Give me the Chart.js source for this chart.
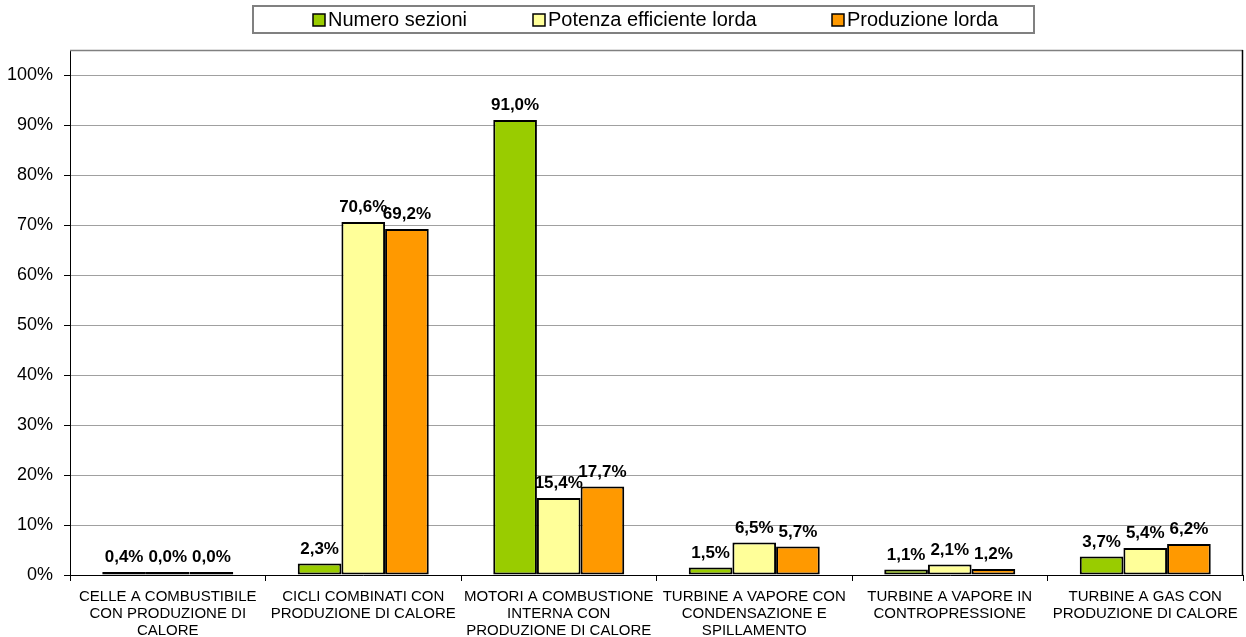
<!DOCTYPE html>
<html>
<head>
<meta charset="utf-8">
<script src="https://cdn.jsdelivr.net/npm/chart.js@4/dist/chart.umd.min.js"></script>
<style>
  body { margin: 0; background: #fff; }
</style>
</head>
<body>
<canvas id="myChart" width="1246" height="637"></canvas>
<script>
// categories and series (percent shares)
const categories = [
  ['CELLE A COMBUSTIBILE', 'CON PRODUZIONE DI', 'CALORE'],
  ['CICLI COMBINATI CON', 'PRODUZIONE DI CALORE'],
  ['MOTORI A COMBUSTIONE', 'INTERNA CON', 'PRODUZIONE DI CALORE'],
  ['TURBINE A VAPORE CON', 'CONDENSAZIONE E', 'SPILLAMENTO'],
  ['TURBINE A VAPORE IN', 'CONTROPRESSIONE'],
  ['TURBINE A GAS CON', 'PRODUZIONE DI CALORE'],
];
const numeroSezioni = [0.4, 2.3, 91.0, 1.5, 1.1, 3.7];
const potenzaLorda = [0.0, 70.6, 15.4, 6.5, 2.1, 5.4];
const produzioneLorda = [0.0, 69.2, 17.7, 5.7, 1.2, 6.2];
const yTicks = [0, 10, 20, 30, 40, 50, 60, 70, 80, 90, 100];

const FONT = "'Liberation Sans', Arial, sans-serif";

const data = {
  labels: categories,
  datasets: [
    { label: 'Numero sezioni', data: numeroSezioni, backgroundColor: '#99cc00' },
    { label: 'Potenza efficiente lorda', data: potenzaLorda, backgroundColor: '#ffff99' },
    { label: 'Produzione lorda', data: produzioneLorda, backgroundColor: '#ff9900' },
  ],
};

// value labels above each bar
const valueLabels = {
  id: 'valueLabels',
  afterDatasetsDraw(chart) {
    const { ctx } = chart;
    ctx.save();
    ctx.font = 'bold 17px ' + FONT;
    ctx.fillStyle = '#000';
    ctx.textAlign = 'center';
    ctx.textBaseline = 'alphabetic';
    chart.data.datasets.forEach((ds, i) => {
      chart.getDatasetMeta(i).data.forEach((bar, j) => {
        const txt = ds.data[j].toFixed(1).replace('.', ',') + '%';
        ctx.fillText(txt, bar.x, bar.y - 10);
      });
    });
    ctx.restore();
  },
};

// plot frame + boxed legend on top
const frameAndLegend = {
  id: 'frameAndLegend',
  afterDraw(chart) {
    const { ctx, chartArea: { top, bottom, left, right } } = chart;
    ctx.save();
    ctx.strokeStyle = '#808080';
    ctx.lineWidth = 1.5;
    ctx.beginPath();
    ctx.moveTo(left, top + 0.5);
    ctx.lineTo(right, top + 0.5);
    ctx.stroke();
    ctx.strokeStyle = '#000';
    ctx.lineWidth = 1.5;
    ctx.beginPath();
    ctx.moveTo(right - 0.5, top);
    ctx.lineTo(right - 0.5, bottom);
    ctx.stroke();

    // legend box
    ctx.strokeStyle = '#808080';
    ctx.lineWidth = 2;
    ctx.strokeRect(253, 6, 781, 27);
    const itemX = [313, 533, 832];
    ctx.font = '20px ' + FONT;
    ctx.textBaseline = 'middle';
    ctx.textAlign = 'left';
    chart.data.datasets.forEach((ds, i) => {
      const x = itemX[i];
      ctx.fillStyle = ds.backgroundColor;
      ctx.fillRect(x, 14, 12, 12);
      ctx.strokeStyle = '#000';
      ctx.lineWidth = 1.5;
      ctx.strokeRect(x, 14, 12, 12);
      ctx.fillStyle = '#000';
      ctx.fillText(ds.label, x + 15, 20.5);
    });
    ctx.restore();
  },
};

const config = {
  type: 'bar',
  data,
  options: {
    responsive: false,
    animation: false,
    layout: { padding: { top: 50, right: 3, left: 0, bottom: 0 } },
    datasets: {
      bar: {
        categoryPercentage: 0.67,
        barPercentage: 1,
        borderColor: '#000',
        borderWidth: 2,
        borderSkipped: false,
        minBarLength: 3,
      },
    },
    plugins: {
      legend: { display: false },
      tooltip: { enabled: false },
    },
    scales: {
      x: {
        afterFit(scale) {
          scale.height = 62;
          scale.paddingLeft = 0;
          scale.paddingRight = 0;
        },
        grid: { offset: true, drawOnChartArea: false, tickLength: 6, tickColor: '#000' },
        border: { color: '#000', width: 1 },
        ticks: {
          color: '#000',
          font: { family: FONT, size: 15, lineHeight: 1.15 },
          maxRotation: 0,
          autoSkip: false,
          padding: 7,
        },
      },
      y: {
        min: 0,
        max: 105,
        afterFit(scale) { scale.width = 70; },
        afterBuildTicks(scale) { scale.ticks = yTicks.map(v => ({ value: v })); },
        grid: { color: '#a0a0a0', tickLength: 6, tickColor: '#000' },
        border: { color: '#000', width: 1 },
        ticks: {
          color: '#000',
          font: { family: FONT, size: 18 },
          padding: 11,
          callback: v => v + '%',
        },
      },
    },
  },
  plugins: [valueLabels, frameAndLegend],
};

const myChart = new Chart(document.getElementById('myChart'), config);
</script>
</body>
</html>
